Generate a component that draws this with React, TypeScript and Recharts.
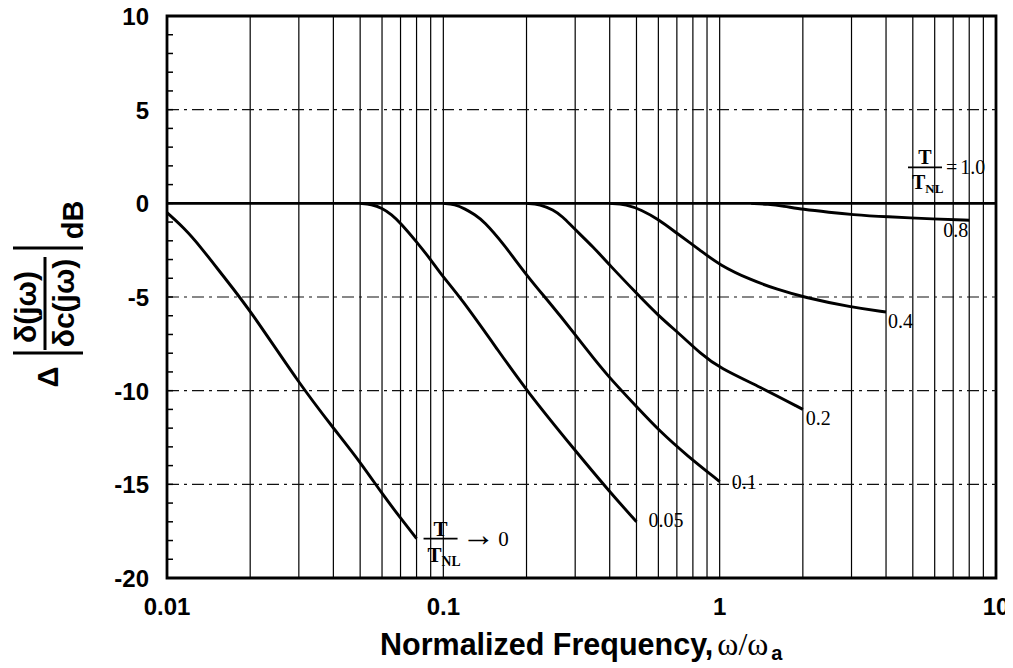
import React from "react";
import {
  LineChart,
  Line,
  XAxis,
  YAxis,
  CartesianGrid,
  ReferenceLine,
  ReferenceArea,
  ReferenceDot,
} from "recharts";

// vertical grid: 1..9 in every decade
const xGrid = [
  0.01, 0.02, 0.03, 0.04, 0.05, 0.06, 0.07, 0.08, 0.09,
  0.1, 0.2, 0.3, 0.4, 0.5, 0.6, 0.7, 0.8, 0.9,
  1, 2, 3, 4, 5, 6, 7, 8, 9, 10,
];
const xLabels = [0.01, 0.1, 1, 10];
const yMinor = [
  -20, -19, -18, -17, -16, -15, -14, -13, -12, -11, -10, -9, -8, -7, -6, -5,
  -4, -3, -2, -1, 0, 1, 2, 3, 4, 5, 6, 7, 8, 9, 10,
];
const yLabels = [-20, -15, -10, -5, 0, 5, 10];
const dashLevels = [5, -5, -10, -15];

// curves, [omega/omega_a, dB], one per T/T_NL
const ratio0 = [
  [0.01, -0.5], [0.0115, -1.3], [0.0132, -2.3], [0.016, -3.9], [0.02, -5.7],
  [0.03, -9.6], [0.04, -12.0], [0.05, -13.8], [0.06, -15.5], [0.07, -16.8],
  [0.08, -17.9],
];
const ratio005 = [
  [0.05, 0], [0.055, -0.05], [0.06, -0.25], [0.065, -0.6], [0.07, -1.05],
  [0.08, -2.05], [0.09, -3.0], [0.1, -3.95], [0.115, -5.0], [0.157, -7.8],
  [0.2, -10.0], [0.3, -13.2], [0.4, -15.4], [0.5, -17.0],
];
const ratio01 = [
  [0.1, 0], [0.11, -0.05], [0.12, -0.3], [0.13, -0.6], [0.14, -0.95],
  [0.165, -2.15], [0.2, -3.85], [0.244, -5.35], [0.3, -7.0], [0.33, -7.8],
  [0.39, -9.15], [0.5, -10.85], [0.61, -12.2], [0.76, -13.45], [1.0, -14.85],
];
const ratio02 = [
  [0.2, 0], [0.224, -0.05], [0.25, -0.35], [0.27, -0.7], [0.295, -1.3],
  [0.35, -2.35], [0.4, -3.3], [0.5, -4.8], [0.6, -6.0], [0.72, -7.0],
  [0.85, -8.0], [1.0, -8.8], [1.4, -9.8], [2.0, -11.0],
];
const ratio04 = [
  [0.4, 0], [0.46, -0.05], [0.52, -0.35], [0.6, -0.85], [0.7, -1.6],
  [0.85, -2.5], [1.0, -3.3], [1.3, -4.1], [1.62, -4.6], [2.0, -5.0],
  [3.0, -5.55], [4.0, -5.8],
];
const ratio08 = [
  [1.3, 0], [1.5, -0.05], [1.7, -0.15], [2.0, -0.32], [2.5, -0.48],
  [3.0, -0.6], [4.0, -0.72], [6.0, -0.84], [8.0, -0.9],
];
const ratio10 = [
  [0.01, 0], [10, 0],
];

const curves = [ratio0, ratio005, ratio01, ratio02, ratio04, ratio08, ratio10];

const SANS = "'Liberation Sans', Arial, sans-serif";
const SERIF = "'Liberation Serif', 'Times New Roman', serif";

const pts = (a: number[][]) => a.map(([x, y]) => ({ x, y }));
const last = (a: number[][]) => a[a.length - 1];

const XTick = ({ x, y, payload }: any) =>
  xLabels.includes(payload.value) ? (
    <text
      x={x}
      y={y + 37}
      textAnchor="middle"
      fontFamily={SANS}
      fontWeight={700}
      fontSize={24}
      fill="#000"
    >
      {payload.value}
    </text>
  ) : (
    <g />
  );

const YTick = ({ x, y, payload }: any) => (
  <g>
    <line x1={x} x2={x + 6} y1={y} y2={y} stroke="#000" strokeWidth={1.5} />
    {yLabels.includes(payload.value) && (
      <text
        x={x - 18}
        y={y + 9}
        textAnchor="end"
        fontFamily={SANS}
        fontWeight={700}
        fontSize={24}
        fill="#000"
      >
        {payload.value}
      </text>
    )}
  </g>
);

const numLabel = (text: string, dx: number, dy: number) => (p: any) => (
  <text x={p.cx + dx} y={p.cy + dy} fontFamily={SERIF} fontSize={20} fill="#000">
    {text}
  </text>
);

// T / T_NL fraction followed by a tail ("= 1.0", "→ 0")
const ratioLabel =
  (sign: string, signScale: number, value: string, bx: number, by: number, size: number) =>
  (p: any) => {
    const x0 = p.cx + bx;
    const y0 = p.cy + by;
    return (
      <g fontFamily={SERIF} fontSize={size} fill="#000">
        <text x={x0 + 17} y={y0 - 3} textAnchor="middle" fontWeight={700}>
          T
        </text>
        <line x1={x0} x2={x0 + 34} y1={y0} y2={y0} stroke="#000" strokeWidth={1.6} />
        <text x={x0 + 4} y={y0 + size + 2} fontWeight={700}>
          T
          <tspan fontSize={size * 0.65} dy={4}>
            NL
          </tspan>
        </text>
        <text x={x0 + 38} y={y0 + 7}>
          <tspan fontSize={size * signScale}>{sign}</tspan>
          <tspan dx={3}>{value}</tspan>
        </text>
      </g>
    );
  };

export default function App() {
  return (
    <div style={{ position: "relative", width: 1005, height: 668, marginTop: -8, background: "#fff" }}>
      <LineChart
        width={1005}
        height={668}
        margin={{ top: 16, right: 17, bottom: 0, left: 0 }}
      >
        <CartesianGrid horizontal={false} stroke="#000" strokeWidth={1.2} />
        <XAxis
          dataKey="x"
          type="number"
          scale="log"
          domain={[0.01, 10]}
          ticks={xGrid}
          interval={0}
          allowDataOverflow
          axisLine={false}
          tickLine={false}
          tickSize={0}
          tickMargin={0}
          height={90}
          tick={<XTick />}
        />
        <YAxis
          type="number"
          domain={[-20, 10]}
          ticks={yMinor}
          interval={0}
          allowDataOverflow
          width={159}
          axisLine={false}
          tickLine={false}
          tickSize={0}
          tickMargin={0}
          tick={<YTick />}
        />
        {dashLevels.map((v) => (
          <ReferenceLine
            key={v}
            y={v}
            stroke="#111"
            strokeWidth={1.1}
            strokeDasharray="12 5 3 5"
          />
        ))}
        {curves.map((c, i) => (
          <Line
            key={i}
            data={pts(c)}
            dataKey="y"
            type="basis"
            stroke="#000"
            strokeWidth={2.9}
            dot={false}
            isAnimationActive={false}
          />
        ))}
        <ReferenceArea
          x1={0.01}
          x2={10}
          y1={-20}
          y2={10}
          fill="none"
          fillOpacity={0}
          stroke="#000"
          strokeWidth={2.8}
          ifOverflow="visible"
        />
        <ReferenceDot x={last(ratio08)[0]} y={last(ratio08)[1]} r={0} ifOverflow="visible" shape={numLabel("0.8", -26, 17)} />
        <ReferenceDot x={last(ratio04)[0]} y={last(ratio04)[1]} r={0} ifOverflow="visible" shape={numLabel("0.4", 2, 16)} />
        <ReferenceDot x={last(ratio02)[0]} y={last(ratio02)[1]} r={0} ifOverflow="visible" shape={numLabel("0.2", 3, 16)} />
        <ReferenceDot x={last(ratio01)[0]} y={last(ratio01)[1]} r={0} ifOverflow="visible" shape={numLabel("0.1", 12, 7)} />
        <ReferenceDot x={last(ratio005)[0]} y={last(ratio005)[1]} r={0} ifOverflow="visible" shape={numLabel("0.05", 12, 5)} />
        <ReferenceDot x={last(ratio0)[0]} y={last(ratio0)[1]} r={0} ifOverflow="visible" shape={ratioLabel("\u2192", 1.6, "0", 7, 0, 21)} />
        <ReferenceDot x={last(ratio10)[0]} y={last(ratio10)[1]} r={0} ifOverflow="visible" shape={ratioLabel("=", 1, "1.0", -88, -36, 20)} />
      </LineChart>

      <svg
        width={1005}
        height={668}
        style={{ position: "absolute", left: 0, top: 0, pointerEvents: "none" }}
      >
        <g transform="rotate(-90)" fontFamily={SANS} fontWeight={700} fill="#000">
          <text x={-377} y={50} fontSize={29} textAnchor="middle">Δ</text>
          <text x={-307} y={28} fontSize={30} textAnchor="middle">δ(jω)</text>
          <text x={-303} y={66} fontSize={30} textAnchor="middle">δc(jω)</text>
          <text x={-220} y={75} fontSize={29} textAnchor="middle">dB</text>
        </g>
        <line x1={5} x2={75} y1={353} y2={353} stroke="#000" strokeWidth={3} />
        <line x1={5} x2={75} y1={248} y2={248} stroke="#000" strokeWidth={3} />
        <line x1={37} x2={37} y1={257} y2={350} stroke="#000" strokeWidth={3} />
        <text x={372} y={655} fontFamily={SANS} fontWeight={700} fontSize={30.5} fill="#000">
          Normalized Frequency,
          <tspan fontFamily={SERIF} fontWeight={400} fontSize={32} dx={4}>
            ω/ω
          </tspan>
          <tspan fontSize={20} dx={3} dy={5}>
            a
          </tspan>
        </text>
      </svg>
    </div>
  );
}
